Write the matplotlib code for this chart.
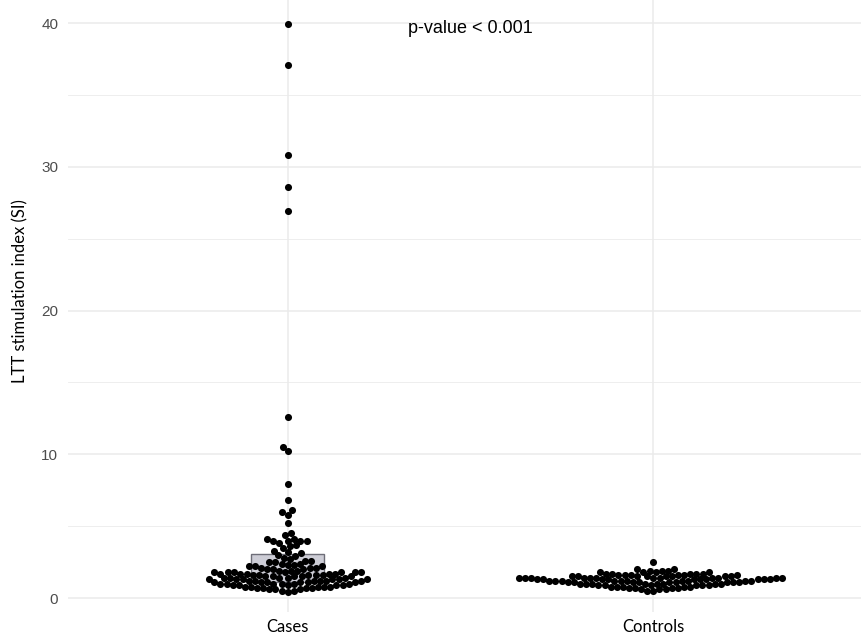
import matplotlib
matplotlib.use("Agg")
import matplotlib.pyplot as plt
import numpy as np

# values (stimulation index)
groups = ["Cases", "Controls"]

cases_high = [39.9, 37.1, 30.8, 28.6, 26.9, 12.6, 10.5, 10.2, 7.9, 6.8, 6.1, 6.0,
              5.8, 5.2, 4.5, 4.4, 4.1, 4.1, 4.0, 4.0, 4.0, 4.0, 3.8, 3.7, 3.6, 3.5,
              3.3, 3.2, 3.1, 3.0]
cases_low = [0.4,
             0.5, 0.5,
             0.6, 0.6, 0.6,
             0.7, 0.7, 0.7, 0.7,
             0.8, 0.8, 0.8, 0.8, 0.8,
             0.9, 0.9, 0.9, 0.9, 0.9,
             1.0, 1.0, 1.0, 1.0, 1.0, 1.0,
             1.1, 1.1, 1.1, 1.1, 1.1, 1.1,
             1.2, 1.2, 1.2, 1.2, 1.2, 1.2,
             1.3, 1.3, 1.3, 1.3, 1.3, 1.3,
             1.4, 1.4, 1.4, 1.4, 1.4,
             1.5, 1.5, 1.5, 1.5, 1.5,
             1.6, 1.6, 1.6, 1.6, 1.6,
             1.7, 1.7, 1.7, 1.7, 1.7,
             1.8, 1.8, 1.8, 1.8, 1.8, 1.8, 1.8,
             1.9, 1.9, 1.9,
             2.0, 2.0, 2.0,
             2.1, 2.1, 2.1,
             2.2, 2.2, 2.2,
             2.3, 2.3, 2.4, 2.4, 2.5, 2.5, 2.6, 2.6,
             2.7, 2.8, 2.9]
controls = [0.5, 0.5,
            0.6, 0.6, 0.6,
            0.7, 0.7, 0.7, 0.7,
            0.8, 0.8, 0.8, 0.8, 0.8,
            0.9, 0.9, 0.9, 0.9, 0.9, 0.9,
            1.0, 1.0, 1.0, 1.0, 1.0, 1.0, 1.0, 1.0,
            1.1, 1.1, 1.1, 1.1, 1.1, 1.1, 1.1, 1.1, 1.1,
            1.2, 1.2, 1.2, 1.2, 1.2, 1.2, 1.2, 1.2, 1.2, 1.2,
            1.3, 1.3, 1.3, 1.3, 1.3, 1.3, 1.3, 1.3, 1.3, 1.3,
            1.4, 1.4, 1.4, 1.4, 1.4, 1.4, 1.4, 1.4, 1.4, 1.4, 1.4, 1.4,
            1.5, 1.5, 1.5, 1.5, 1.5, 1.5, 1.5, 1.5,
            1.6, 1.6, 1.6, 1.6, 1.6, 1.6,
            1.7, 1.7, 1.7, 1.7, 1.7,
            1.8, 1.8, 1.8, 1.8,
            1.9, 1.9, 1.9,
            2.0, 2.0,
            2.5]

# summary box for cases (lower / upper edge)
box_low = 1.1
box_high = 3.05

p_text = "p-value < 0.001"


def swarm_offsets(ypix, d):
    # place points in ascending order, each as close to the centre as possible
    order = np.argsort(ypix, kind="stable")
    px, py = [], []
    out = np.zeros(len(ypix))
    for i in order:
        y = ypix[i]
        cands = [0.0]
        for xj, yj in zip(px, py):
            dy = abs(y - yj)
            if dy < d:
                dx = np.sqrt(d * d - dy * dy)
                cands += [xj - dx, xj + dx]
        cands = sorted(cands, key=lambda c: (abs(c), c))
        for c in cands:
            ok = True
            for xj, yj in zip(px, py):
                if (c - xj) ** 2 + (y - yj) ** 2 < d * d - 1e-6:
                    ok = False
                    break
            if ok:
                break
        px.append(c)
        py.append(y)
        out[i] = c
    return out


fig = plt.figure(figsize=(8.61, 6.4), dpi=100)
# panel runs a little past the right edge of the image, as in the reference
ax = fig.add_axes([68 / 861, 28 / 640, 805 / 861, 612 / 640])
ax.set_xlim(-0.6, 1.6)
ax.set_ylim(-0.97, 41.6)

for s in ax.spines.values():
    s.set_visible(False)
ax.set_xticks([0, 1])
ax.set_xticklabels(groups, family="Lato", fontsize=12, color="black")
ax.set_yticks([0, 10, 20, 30, 40])
ax.set_yticks([5, 15, 25, 35], minor=True)
ax.tick_params(axis="both", which="both", length=0)
ax.tick_params(axis="y", labelsize=11, labelcolor="#4d4d4d", pad=7)
ax.tick_params(axis="x", pad=5)
for lab in ax.get_yticklabels():
    lab.set_family("Liberation Sans")
ax.grid(True, which="major", color="#ebebeb", linewidth=1.1)
ax.grid(True, which="minor", axis="y", color="#ebebeb", linewidth=0.6)
ax.set_axisbelow(True)
ax.set_ylabel("LTT stimulation index (SI)", family="Lato", fontsize=12)
ax.yaxis.set_label_coords(-40 / 805, 1 - 291 / 612)

ax.bar(0, box_high - box_low, bottom=box_low, width=0.2,
       color="#cdcdd6", edgecolor="#6e6e78", linewidth=1.0, zorder=2)

to_pix = ax.transData
d = 6.2
for gi, vals in enumerate([cases_high + cases_low, controls]):
    vals = np.asarray(vals, dtype=float)
    pts = to_pix.transform(np.column_stack([np.full(len(vals), gi), vals]))
    off = swarm_offsets(pts[:, 1], d)
    pts[:, 0] += off
    xy = to_pix.inverted().transform(pts)
    ax.scatter(xy[:, 0], xy[:, 1], s=26, color="black", linewidths=0, zorder=3)

ax.text(0.5, 39.6, p_text, family="Liberation Sans", fontsize=13,
        ha="center", va="center", color="black")

fig.savefig("out.png", dpi=100)
